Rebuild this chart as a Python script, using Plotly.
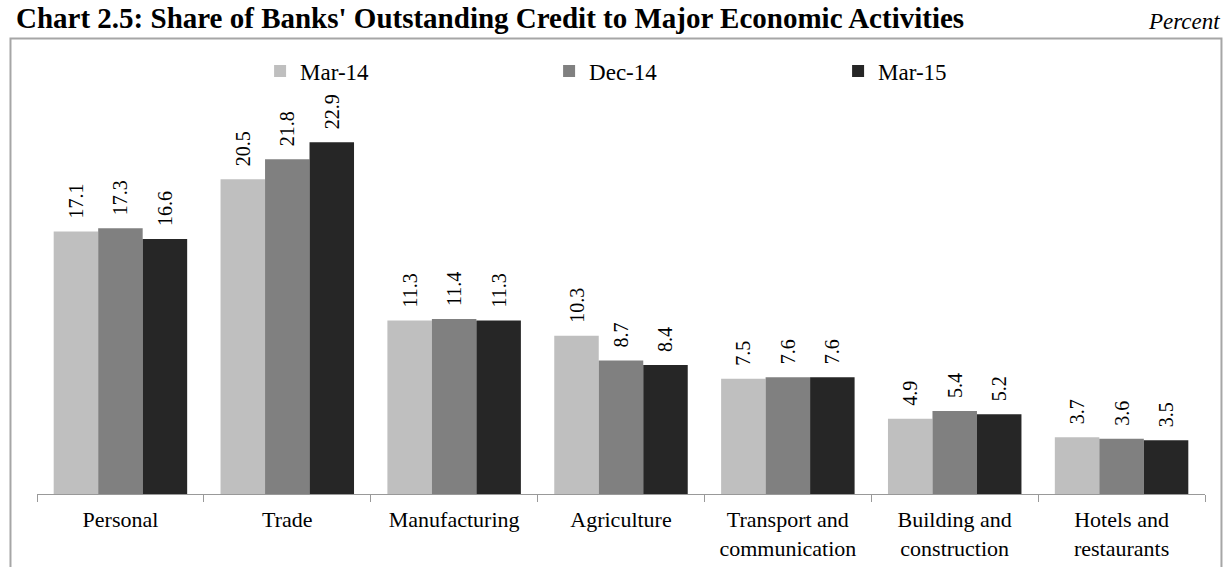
import plotly.graph_objects as go

categories = [
    "Personal",
    "Trade",
    "Manufacturing",
    "Agriculture",
    "Transport and<br>communication",
    "Building and<br>construction",
    "Hotels and<br>restaurants",
]
mar_14 = [17.1, 20.5, 11.3, 10.3, 7.5, 4.9, 3.7]
dec_14 = [17.3, 21.8, 11.4, 8.7, 7.6, 5.4, 3.6]
mar_15 = [16.6, 22.9, 11.3, 8.4, 7.6, 5.2, 3.5]

series = [
    ("Mar-14", mar_14, "#bfbfbf"),
    ("Dec-14", dec_14, "#808080"),
    ("Mar-15", mar_15, "#262626"),
]

SERIF = "Liberation Serif, Times New Roman, serif"

fig = go.Figure()
for name, values, color in series:
    fig.add_trace(
        go.Bar(
            x=categories,
            y=values,
            name=name,
            marker={"color": color, "line": {"width": 0}},
            texttemplate="\u00a0\u00a0%{y:.1f}",
            textposition="outside",
            textangle=-90,
            constraintext="none",
            cliponaxis=False,
            textfont={"family": SERIF, "size": 20, "color": "#000000"},
        )
    )

fig.update_layout(
    width=1226,
    height=567,
    barmode="group",
    bargap=0.2,
    bargroupgap=0,
    paper_bgcolor="white",
    plot_bgcolor="white",
    font={"family": SERIF, "color": "#000000"},
    margin={"l": 37, "r": 21, "t": 64, "b": 73},
    showlegend=True,
    legend={
        "orientation": "h",
        "x": 0.191,
        "xanchor": "left",
        "y": 0.9837,
        "yanchor": "middle",
        "entrywidth": 244,
        "entrywidthmode": "pixels",
        "itemwidth": 30,
        "font": {"family": SERIF, "size": 23, "color": "#000000"},
        "bgcolor": "rgba(0,0,0,0)",
    },
    shapes=[
        # grey frame round the chart, running past the bottom edge
        {
            "type": "rect",
            "xref": "paper",
            "yref": "paper",
            "x0": -0.0227,
            "x1": 1.0141,
            "y0": -0.2465,
            "y1": 1.0593,
            "line": {"color": "#a6a6a6", "width": 2},
            "fillcolor": "rgba(0,0,0,0)",
            "layer": "below",
        }
    ],
    annotations=[
        {
            "text": "<b>Chart 2.5: Share of Banks' Outstanding Credit to Major Economic Activities</b>",
            "xref": "paper",
            "yref": "paper",
            "x": -0.0197,
            "y": 1.1488,
            "xanchor": "left",
            "yanchor": "top",
            "showarrow": False,
            "font": {"family": SERIF, "size": 29, "color": "#000000"},
        },
        {
            "text": "<i>Percent</i>",
            "xref": "paper",
            "yref": "paper",
            "x": 1.0146,
            "y": 1.0977,
            "xanchor": "right",
            "yanchor": "middle",
            "showarrow": False,
            "font": {"family": SERIF, "size": 23, "color": "#000000"},
        },
    ],
)

fig.update_xaxes(
    showline=True,
    linecolor="#999999",
    linewidth=1,
    ticks="outside",
    tickson="boundaries",
    ticklen=7,
    tickcolor="#999999",
    ticklabelstandoff=6,
    automargin=False,
    showgrid=False,
    tickfont={"family": SERIF, "size": 22, "color": "#000000"},
)
fig.update_yaxes(
    range=[0, 28],
    visible=False,
    showgrid=False,
    zeroline=False,
)

# drop the page's default body margin so the figure sits at the window's corner
fig.write_html(
    "out.html",
    config={"displayModeBar": False},
    post_script="document.body.style.margin = '0';",
)
